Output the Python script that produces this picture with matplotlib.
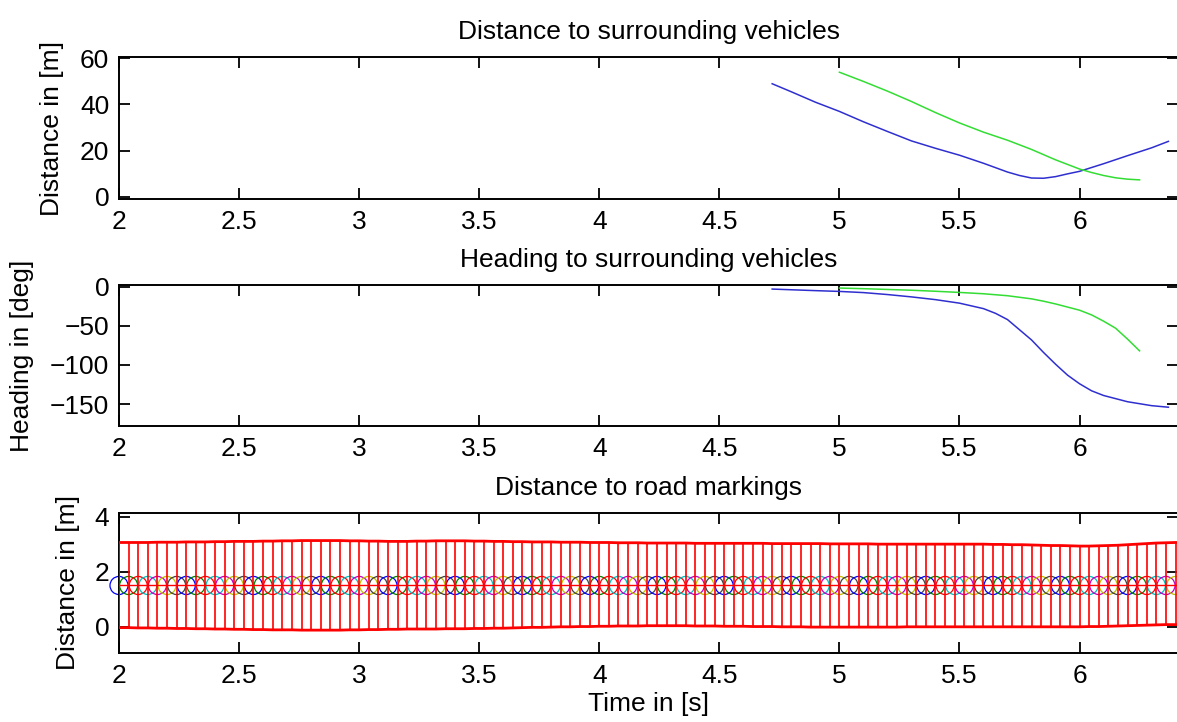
import numpy as np
import matplotlib
matplotlib.use("Agg")
import matplotlib.pyplot as plt

plt.rcParams['font.family'] = ['Liberation Sans', 'DejaVu Sans']

# ---------------- data ----------------
# Distance to surrounding vehicles
t_dist_blue = [4.72, 4.80, 4.90, 5.00, 5.10, 5.20, 5.30, 5.40, 5.50, 5.60, 5.70,
               5.75, 5.80, 5.85, 5.90, 5.95, 6.00, 6.10, 6.20, 6.30, 6.37]
dist_blue = [49, 45.5, 41, 37, 32.5, 28.3, 24.2, 21, 18, 14.5, 10.7,
             9.2, 8.1, 8.0, 8.7, 9.9, 11, 14.3, 17.8, 21.2, 24]
t_dist_green = [5.00, 5.10, 5.20, 5.30, 5.40, 5.50, 5.60, 5.70, 5.80, 5.90,
                6.00, 6.05, 6.10, 6.15, 6.20, 6.25]
dist_green = [54, 50, 45.8, 41.3, 36.5, 32, 28, 24.5, 20.5, 16,
              12, 10.5, 9.2, 8.2, 7.6, 7.3]

# Heading to surrounding vehicles
t_head_blue = [4.72, 4.90, 5.00, 5.10, 5.20, 5.30, 5.40, 5.50, 5.60, 5.65, 5.70,
               5.75, 5.80, 5.85, 5.90, 5.95, 6.00, 6.05, 6.10, 6.20, 6.30, 6.37]
head_blue = [-3, -5, -6, -7.5, -10, -13, -16.5, -21, -28, -34, -42,
             -55, -68, -84, -99, -113, -124, -133, -139, -147, -152, -154]
t_head_green = [5.00, 5.10, 5.20, 5.30, 5.40, 5.50, 5.60, 5.70, 5.80, 5.85,
                5.90, 5.95, 6.00, 6.05, 6.10, 6.15, 6.20, 6.25]
head_green = [-1.7, -2.5, -3.5, -4.5, -5.8, -7.3, -9, -11.5, -15.5, -18.5,
              -22, -26, -30, -36, -44, -53, -67, -82]

# Distance to road markings (sampled every 0.04 s from 2.00 to 6.40)
t_road = np.linspace(2.0, 6.4, 111)
road_upper = [3.06, 3.06, 3.06, 3.06, 3.07, 3.07, 3.07, 3.08, 3.08, 3.08, 3.09,
              3.09, 3.10, 3.10, 3.10, 3.11, 3.11, 3.12, 3.12, 3.13, 3.13, 3.13,
              3.13, 3.13, 3.12, 3.12, 3.11, 3.11, 3.10, 3.10, 3.10, 3.11, 3.11,
              3.12, 3.12, 3.12, 3.12, 3.11, 3.11, 3.10, 3.10, 3.09, 3.09, 3.08,
              3.08, 3.08, 3.07, 3.07, 3.07, 3.06, 3.06, 3.06, 3.05, 3.05, 3.05,
              3.04, 3.04, 3.04, 3.04, 3.04, 3.03, 3.03, 3.03, 3.03, 3.03, 3.03,
              3.03, 3.03, 3.02, 3.02, 3.02, 3.02, 3.02, 3.02, 3.01, 3.01, 3.01,
              3.01, 3.01, 3.00, 3.00, 3.00, 3.00, 3.00, 3.00, 3.00, 3.00, 3.00,
              3.00, 3.00, 3.00, 2.99, 2.99, 2.98, 2.98, 2.97, 2.96, 2.95, 2.95,
              2.94, 2.93, 2.93, 2.94, 2.95, 2.96, 2.98, 3.00, 3.02, 3.04, 3.05,
              3.06]
road_lower = [-0.03, -0.03, -0.04, -0.04, -0.05, -0.05, -0.06, -0.06, -0.07, -0.07, -0.08,
              -0.08, -0.09, -0.09, -0.10, -0.10, -0.11, -0.11, -0.11, -0.12, -0.12, -0.12,
              -0.12, -0.12, -0.11, -0.11, -0.10, -0.10, -0.09, -0.09, -0.08, -0.08, -0.08,
              -0.08, -0.07, -0.07, -0.07, -0.06, -0.06, -0.05, -0.05, -0.04, -0.03, -0.02,
              -0.02, -0.01, 0.00, 0.00, 0.01, 0.01, 0.02, 0.02, 0.03, 0.03, 0.03,
              0.04, 0.04, 0.04, 0.04, 0.04, 0.03, 0.03, 0.03, 0.02, 0.02, 0.02,
              0.01, 0.01, 0.01, 0.00, 0.00, 0.00, -0.01, -0.01, -0.01, -0.01, -0.01,
              -0.01, -0.01, -0.01, -0.01, -0.01, 0.00, 0.00, 0.00, 0.00, 0.00, 0.00,
              0.00, 0.00, 0.00, 0.00, 0.00, 0.00, 0.00, 0.00, 0.00, 0.00, 0.00,
              0.00, 0.00, 0.01, 0.01, 0.02, 0.03, 0.04, 0.05, 0.06, 0.07, 0.08,
              0.08]
road_center = 1.5
circle_colors = [(0, 0, 1), (0, 0.5, 0), (1, 0, 0), (0, 0.75, 0.75),
                 (0.75, 0, 0.75), (0.75, 0.75, 0), (0.25, 0.25, 0.25)]

xticks = [2, 2.5, 3, 3.5, 4, 4.5, 5, 5.5, 6]
xtick_labels = ['2', '2.5', '3', '3.5', '4', '4.5', '5', '5.5', '6']

titles = ['Distance to surrounding vehicles', 'Heading to surrounding vehicles',
          'Distance to road markings']
ylabels = ['Distance in [m]', 'Heading in [deg]', 'Distance in [m]']
yticks_list = [[0, 20, 40, 60], [-150, -100, -50, 0], [0, 2, 4]]
ytick_labels_list = [['0', '20', '40', '60'],
                     ['\u2212150', '\u2212100', '\u221250', '0'],
                     ['0', '2', '4']]
ylims = [(-1, 60.6), (-178, 2.2), (-0.95, 4.13)]

# ---------------- figure ----------------
W, H = 1177, 722
fig = plt.figure(figsize=(W / 100, H / 100), dpi=100)

FS = 19
left_px, right_px = 119, 1178
boxes = [(57, 199), (285, 426), (513, 653)]
ylabel_x = [52, 22, 68]

axes = []
for i, (top, bot) in enumerate(boxes):
    ax = fig.add_axes([left_px / W, 1 - bot / H, (right_px - left_px) / W, (bot - top) / H])
    axes.append(ax)
    ax.set_xlim(2, 6.41)
    ax.set_ylim(*ylims[i])
    ax.set_xticks(xticks)
    ax.set_xticklabels(xtick_labels)
    ax.set_yticks(yticks_list[i])
    ax.set_yticklabels(ytick_labels_list[i])
    ax.tick_params(direction='in', length=8, width=1.3, top=True, right=True,
                   labelsize=FS, pad=7)
    ax.tick_params(axis='x', pad=8)
    for s in ax.spines.values():
        s.set_linewidth(1.4)
    ax.set_title(titles[i], fontsize=FS, pad=13)
    fig.text(ylabel_x[i] / W, 1 - ((top + bot) / 2) / H, ylabels[i], rotation=90,
             ha='center', va='center', fontsize=FS)

ax1, ax2, ax3 = axes
ax1.plot(t_dist_blue, dist_blue, color='#2f2fd0', lw=1.1)
ax1.plot(t_dist_green, dist_green, color='#33dd33', lw=1.1)

ax2.plot(t_head_blue, head_blue, color='#2f2fd0', lw=1.1)
ax2.plot(t_head_green, head_green, color='#33dd33', lw=1.1)

# road markings
cols = [circle_colors[k % len(circle_colors)] for k in range(len(t_road))]
ax3.scatter(t_road, [road_center] * len(t_road), s=13 ** 2, facecolors='none',
            edgecolors=cols, linewidths=0.9, clip_on=False, zorder=2)
ax3.vlines(t_road, road_lower, road_upper, color='red', lw=1.2, zorder=3)
ax3.plot(t_road, road_upper, color='red', lw=2.0, zorder=3)
ax3.plot(t_road, road_lower, color='red', lw=2.0, zorder=3)
ax3.plot(t_road, [road_center] * len(t_road), color='red', lw=1.0, zorder=3)

ax3.set_xlabel('Time in [s]', fontsize=FS, labelpad=3)

fig.savefig('out.png', dpi=100)
